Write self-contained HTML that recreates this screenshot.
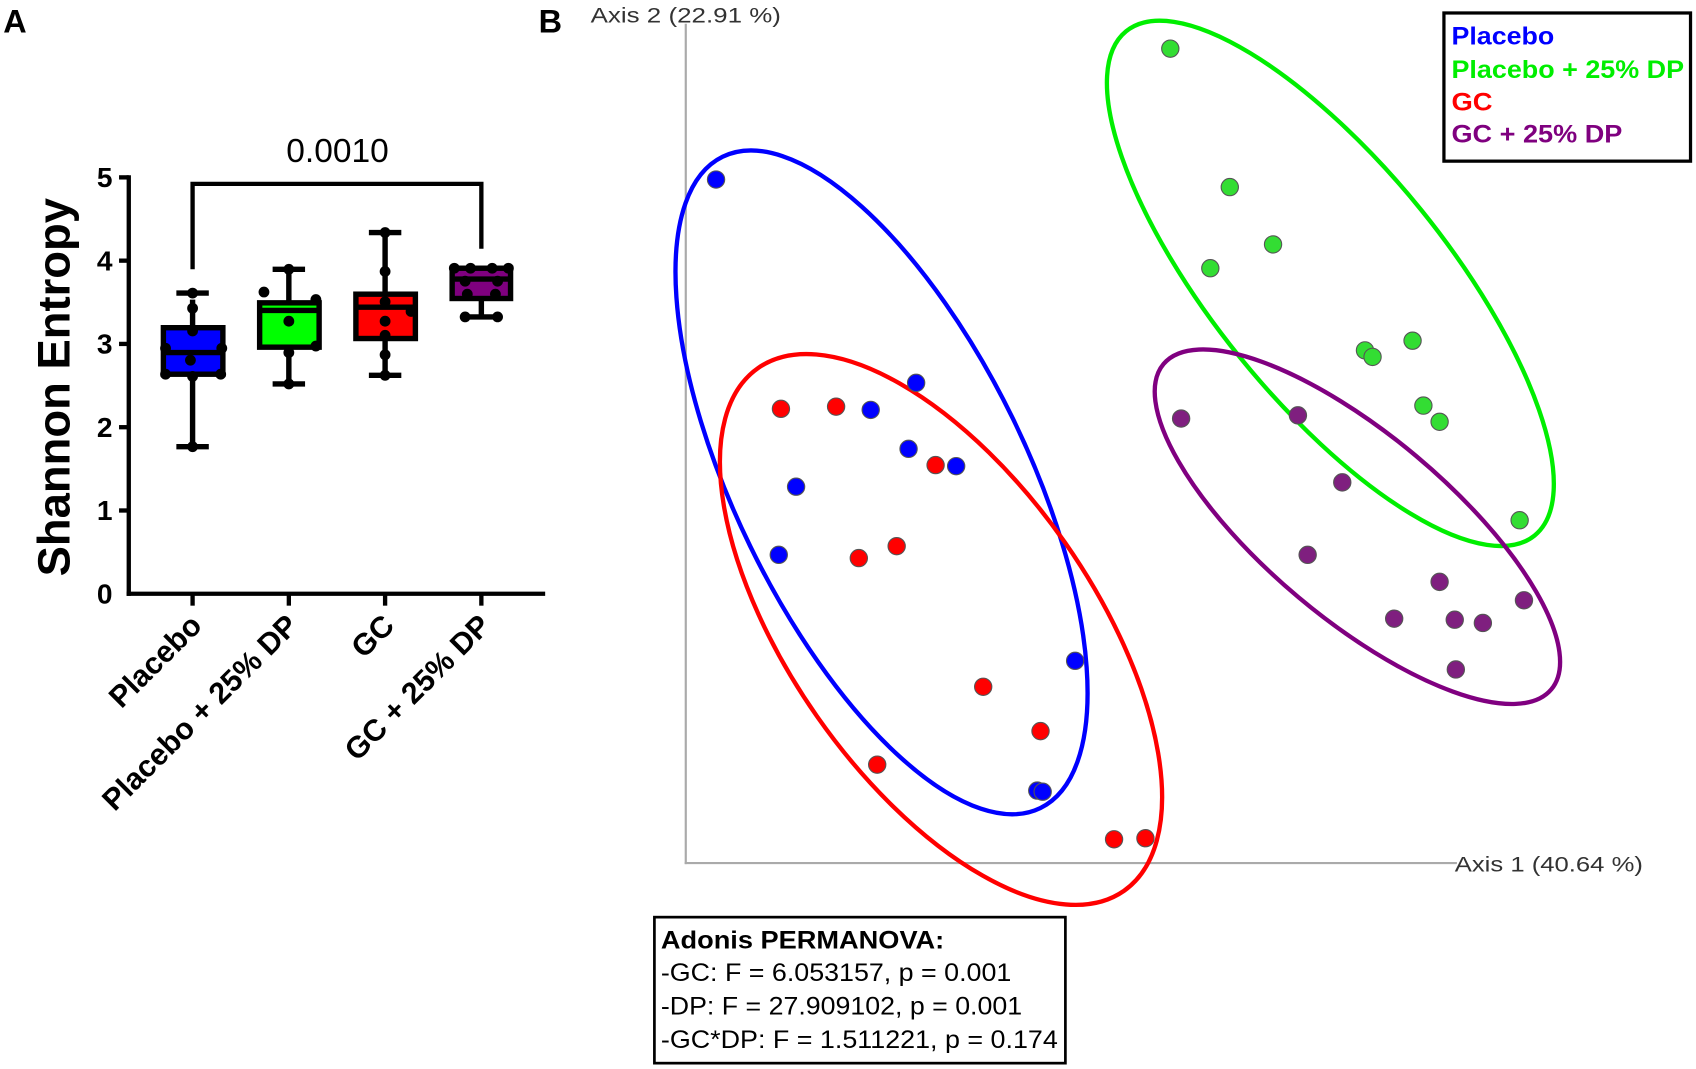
<!DOCTYPE html>
<html><head><style>body{margin:0;background:#fff}svg{display:block}</style></head><body>
<svg width="1696" height="1069" viewBox="0 0 1568 988.4" xmlns="http://www.w3.org/2000/svg" font-family="Liberation Sans, Arial, sans-serif">
<text x="3" y="30" font-size="30" font-weight="bold">A</text>
<text x="498" y="30" font-size="30" font-weight="bold">B</text>
<!-- Panel A -->
<g stroke="#000" stroke-width="4" fill="none">
<line x1="119" y1="162" x2="119" y2="551"/>
<line x1="117" y1="549" x2="504" y2="549"/>
<line x1="110" y1="164" x2="119" y2="164"/><line x1="110" y1="241" x2="119" y2="241"/><line x1="110" y1="318" x2="119" y2="318"/><line x1="110" y1="395" x2="119" y2="395"/><line x1="110" y1="472" x2="119" y2="472"/>
<line x1="178" y1="549" x2="178" y2="560"/><line x1="267" y1="549" x2="267" y2="560"/><line x1="356" y1="549" x2="356" y2="560"/><line x1="445" y1="549" x2="445" y2="560"/>
<polyline points="178,249 178,170 445,170 445,230"/>
</g>
<g font-size="26" font-weight="bold" text-anchor="end">
<text x="104" y="173">5</text><text x="104" y="250">4</text><text x="104" y="327">3</text><text x="104" y="404">2</text><text x="104" y="481">1</text><text x="104" y="558">0</text>
</g>
<text x="312" y="150" font-size="31" text-anchor="middle">0.0010</text>
<text transform="translate(64,358) rotate(-90)" font-size="42" font-weight="bold" text-anchor="middle">Shannon Entropy</text>
<g font-size="28" font-weight="bold" text-anchor="end">
<text transform="translate(188,580) rotate(-45)">Placebo</text>
<text transform="translate(277,580) rotate(-45)">Placebo + 25% DP</text>
<text transform="translate(366,580) rotate(-45)">GC</text>
<text transform="translate(455,580) rotate(-45)">GC + 25% DP</text>
</g>
<g stroke="#000" stroke-width="5">
<line x1="178" y1="413" x2="178" y2="277"/><line x1="163" y1="413" x2="193" y2="413"/><line x1="163" y1="271" x2="193" y2="271"/>
<rect x="151" y="303" width="55" height="43" fill="#0000ff"/><line x1="151" y1="326" x2="206" y2="326"/>
<line x1="267" y1="355" x2="267" y2="250"/><line x1="252" y1="355" x2="282" y2="355"/><line x1="252" y1="249" x2="282" y2="249"/>
<rect x="240" y="280" width="55" height="41" fill="#00ff00"/><line x1="240" y1="287" x2="295" y2="287"/>
<line x1="356" y1="347" x2="356" y2="215"/><line x1="341" y1="347" x2="371" y2="347"/><line x1="341" y1="215" x2="371" y2="215"/>
<rect x="329" y="272" width="55" height="41" fill="#ff0000"/><line x1="329" y1="284" x2="384" y2="284"/>
<line x1="445" y1="293" x2="445" y2="247"/><line x1="430" y1="293" x2="460" y2="293"/>
<rect x="418" y="248" width="54" height="28" fill="#7f007f"/><line x1="418" y1="258" x2="472" y2="258"/>
</g>
<g fill="#000">
<circle cx="178" cy="413" r="5"/><circle cx="178" cy="271" r="5"/><circle cx="178" cy="285" r="5"/><circle cx="178" cy="306" r="5"/><circle cx="153" cy="322" r="5"/><circle cx="205" cy="322" r="5"/><circle cx="176" cy="333" r="5"/><circle cx="153" cy="346" r="5"/><circle cx="204" cy="346" r="5"/><circle cx="178" cy="348" r="5"/>
<circle cx="267" cy="355" r="5"/><circle cx="267" cy="249" r="5"/><circle cx="244" cy="270" r="5"/><circle cx="292" cy="277" r="5"/><circle cx="267" cy="297" r="5"/><circle cx="292" cy="320" r="5"/><circle cx="267" cy="326" r="5"/>
<circle cx="356" cy="215" r="5"/><circle cx="356" cy="251" r="5"/><circle cx="356" cy="279" r="5"/><circle cx="356" cy="297" r="5"/><circle cx="380" cy="288" r="5"/><circle cx="356" cy="310" r="5"/><circle cx="356" cy="328" r="5"/><circle cx="356" cy="347" r="5"/>
<circle cx="420" cy="248" r="5"/><circle cx="435" cy="248" r="5"/><circle cx="455" cy="248" r="5"/><circle cx="470" cy="248" r="5"/><circle cx="430" cy="260" r="5"/><circle cx="460" cy="260" r="5"/><circle cx="432" cy="272" r="5"/><circle cx="458" cy="272" r="5"/><circle cx="430" cy="293" r="5"/><circle cx="460" cy="293" r="5"/>
</g>
<!-- Panel B -->
<g stroke="#aaa" stroke-width="2"><line x1="634" y1="22" x2="634" y2="799"/><line x1="633" y1="798" x2="1347" y2="798"/></g>
<text x="546" y="21" font-size="20" fill="#333" textLength="176" lengthAdjust="spacingAndGlyphs">Axis 2 (22.91 %)</text>
<text x="1345" y="806" font-size="20" fill="#333" textLength="174" lengthAdjust="spacingAndGlyphs">Axis 1 (40.64 %)</text>
<g fill="none" stroke-width="4">
<ellipse cx="815" cy="446" rx="335" ry="135" transform="rotate(64 815 446)" stroke="#0000ff"/>
<ellipse cx="870" cy="582" rx="295" ry="140" transform="rotate(55 870 582)" stroke="#ff0000"/>
<ellipse cx="1230" cy="262" rx="300" ry="108" transform="rotate(51 1230 262)" stroke="#00ee00"/>
<ellipse cx="1255" cy="487" rx="234" ry="85" transform="rotate(40 1255 487)" stroke="#800080"/>
</g>
<g stroke="#555" stroke-width="1" >
<g fill="#0000ff"><circle cx="662" cy="166" r="8"/><circle cx="847" cy="354" r="8"/><circle cx="805" cy="379" r="8"/><circle cx="840" cy="415" r="8"/><circle cx="884" cy="431" r="8"/><circle cx="736" cy="450" r="8"/><circle cx="720" cy="513" r="8"/><circle cx="994" cy="611" r="8"/><circle cx="959" cy="731" r="8"/><circle cx="964" cy="732" r="8"/></g>
<g fill="#ff0000"><circle cx="722" cy="378" r="8"/><circle cx="773" cy="376" r="8"/><circle cx="865" cy="430" r="8"/><circle cx="829" cy="505" r="8"/><circle cx="794" cy="516" r="8"/><circle cx="909" cy="635" r="8"/><circle cx="962" cy="676" r="8"/><circle cx="811" cy="707" r="8"/><circle cx="1030" cy="776" r="8"/><circle cx="1059" cy="775" r="8"/></g>
<g fill="#33dd33"><circle cx="1082" cy="45" r="8"/><circle cx="1137" cy="173" r="8"/><circle cx="1177" cy="226" r="8"/><circle cx="1119" cy="248" r="8"/><circle cx="1262" cy="324" r="8"/><circle cx="1269" cy="330" r="8"/><circle cx="1306" cy="315" r="8"/><circle cx="1316" cy="375" r="8"/><circle cx="1331" cy="390" r="8"/><circle cx="1405" cy="481" r="8"/></g>
<g fill="#7f1f7f"><circle cx="1092" cy="387" r="8"/><circle cx="1200" cy="384" r="8"/><circle cx="1241" cy="446" r="8"/><circle cx="1209" cy="513" r="8"/><circle cx="1331" cy="538" r="8"/><circle cx="1289" cy="572" r="8"/><circle cx="1345" cy="573" r="8"/><circle cx="1371" cy="576" r="8"/><circle cx="1409" cy="555" r="8"/><circle cx="1346" cy="619" r="8"/></g>
</g>
<rect x="1335" y="12" width="228" height="137" fill="#fff" stroke="#000" stroke-width="3"/>
<g font-size="23" font-weight="bold">
<text x="1342" y="41" fill="#0000ff" textLength="95" lengthAdjust="spacingAndGlyphs">Placebo</text>
<text x="1342" y="72" fill="#00ee00" textLength="215" lengthAdjust="spacingAndGlyphs">Placebo + 25% DP</text>
<text x="1342" y="102" fill="#ff0000" textLength="38" lengthAdjust="spacingAndGlyphs">GC</text>
<text x="1342" y="132" fill="#7f007f" textLength="158" lengthAdjust="spacingAndGlyphs">GC + 25% DP</text>
</g>
<rect x="605" y="848" width="380" height="135" fill="#fff" stroke="#000" stroke-width="2.5"/>
<g font-size="23">
<text x="611" y="877" font-weight="bold" textLength="262" lengthAdjust="spacingAndGlyphs">Adonis PERMANOVA:</text>
<text x="611" y="907" textLength="324" lengthAdjust="spacingAndGlyphs">-GC: F = 6.053157, p = 0.001</text>
<text x="611" y="938" textLength="334" lengthAdjust="spacingAndGlyphs">-DP: F = 27.909102, p = 0.001</text>
<text x="611" y="969" textLength="367" lengthAdjust="spacingAndGlyphs">-GC*DP: F = 1.511221, p = 0.174</text>
</g>
</svg>
</body></html>
